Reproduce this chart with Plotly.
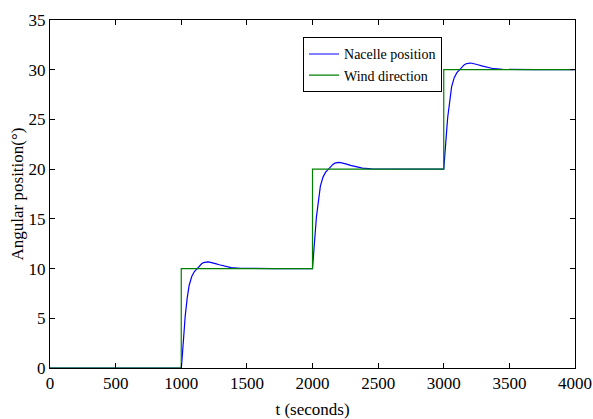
import plotly.graph_objects as go

# Wind direction (step reference)
wind_t = [0, 1000, 1000, 2000, 2000, 3000, 3000, 4000]
wind_y = [0, 0, 10, 10, 20, 20, 30, 30]

# Nacelle position
nac_t = [0, 1000, 1005, 1010, 1020, 1030, 1045, 1060, 1080, 1100, 1122, 1140, 1155, 1170, 1185,
         1200, 1215, 1235, 1260, 1290, 1330, 1380, 1450, 1550, 1700, 2000,
         2005, 2010, 2020, 2030, 2045, 2060, 2080, 2100, 2122, 2140, 2155, 2170, 2185,
         2200, 2215, 2235, 2260, 2290, 2330, 2380, 2450, 2550, 2700, 3000,
         3005, 3010, 3020, 3030, 3045, 3060, 3080, 3100, 3122, 3140, 3155, 3170, 3185,
         3200, 3215, 3235, 3260, 3290, 3330, 3380, 3450, 3550, 3700, 4000]
nac_y = [0, 0, 0.7, 1.6, 3.5, 5.2, 7.0, 8.3, 9.2, 9.7, 10.0, 10.3, 10.48, 10.6, 10.66,
         10.67, 10.65, 10.6, 10.5, 10.38, 10.23, 10.1, 10.03, 10.0, 10.0, 10.0,
         10.7, 11.6, 13.5, 15.2, 17.0, 18.3, 19.2, 19.7, 20.0, 20.3, 20.48, 20.6, 20.66,
         20.67, 20.65, 20.6, 20.5, 20.38, 20.23, 20.1, 20.03, 20.0, 20.0, 20.0,
         20.7, 21.6, 23.5, 25.2, 27.0, 28.3, 29.2, 29.7, 30.0, 30.3, 30.48, 30.6, 30.66,
         30.67, 30.65, 30.6, 30.5, 30.38, 30.23, 30.1, 30.03, 30.0, 30.0, 30.0]

x_ticks = [0, 500, 1000, 1500, 2000, 2500, 3000, 3500, 4000]
y_ticks = [0, 5, 10, 15, 20, 25, 30, 35]

font = "Liberation Serif"

fig = go.Figure()
fig.add_trace(go.Scatter(x=nac_t, y=nac_y, mode="lines", name="Nacelle position",
                         line=dict(color="#0000ff", width=1.2)))
fig.add_trace(go.Scatter(x=wind_t, y=wind_y, mode="lines", name="Wind direction",
                         line=dict(color="#008000", width=1.2)))

axis_common = dict(showline=True, linecolor="black", linewidth=1, mirror="ticks",
                   ticks="inside", ticklen=5, tickcolor="black", showgrid=False,
                   zeroline=False, automargin=False,
                   tickfont=dict(family=font, size=17, color="black"))

fig.update_layout(
    width=593, height=419,
    margin=dict(l=50, r=18, t=20, b=51),
    paper_bgcolor="white", plot_bgcolor="white",
    font=dict(family=font, color="black"),
    xaxis=dict(range=[0, 4000], tickvals=x_ticks,
               title=dict(text="t (seconds)", font=dict(family=font, size=17), standoff=14),
               **axis_common),
    yaxis=dict(range=[0, 35], tickvals=y_ticks,
               title=dict(text="Angular position(°)", font=dict(family=font, size=17), standoff=0),
               **axis_common),
    legend=dict(x=0.482, y=0.95, xanchor="left", yanchor="top",
                bordercolor="black", borderwidth=1, bgcolor="white",
                font=dict(family=font, size=14), itemwidth=30,
                tracegroupgap=0),
    showlegend=True,
)

fig.write_html("out.html")
